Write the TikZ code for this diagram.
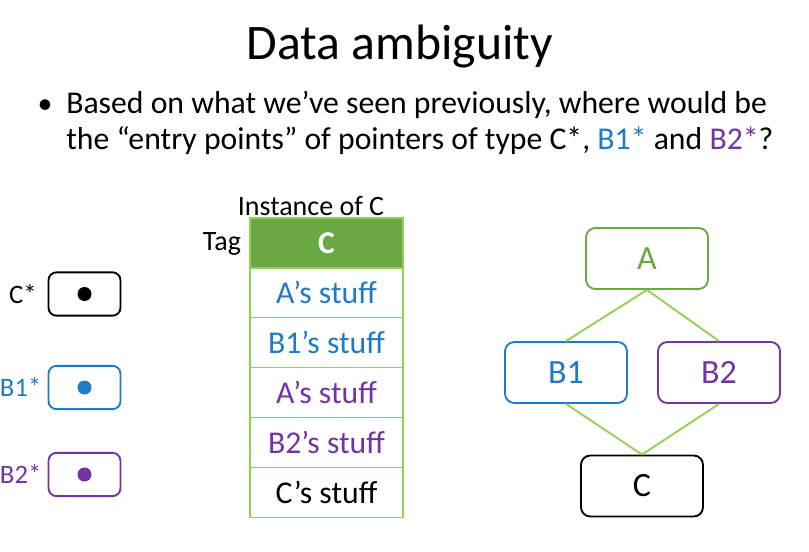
\documentclass[tikz,border=0pt]{standalone}
\usepackage{fontspec}
\setmainfont{Carlito}
\usetikzlibrary{positioning}
\definecolor{lightgreen}{HTML}{92D050}
\definecolor{darkgreen}{HTML}{6AA842}
\definecolor{ptrblue}{HTML}{1F7BC6}
\definecolor{ptrpurple}{HTML}{7434A4}
\tikzstyle{ptrbox} = [
    rectangle,
    rounded corners=6pt,
    line width=1.4pt,
    minimum width=54pt,
    minimum height=32.5pt
]
\tikzstyle{ptrdot} = [
    circle,
    inner sep=0pt,
    minimum size=10.5pt
]
\tikzstyle{ptrlabel} = [
    inner sep=0pt,
    font=\fontsize{20}{22}\selectfont
]
\tikzstyle{row} = [
    rectangle,
    draw=lightgreen,
    line width=1pt,
    outer sep=0pt,
    minimum width=114.75pt,
    minimum height=37.4pt,
    inner sep=0pt,
    font=\fontsize{23.8}{26}\selectfont
]
\tikzstyle{cls} = [
    rectangle,
    rounded corners=7pt,
    line width=1.4pt,
    minimum width=91.5pt,
    minimum height=45.75pt,
    font=\fontsize{25.5}{28}\selectfont
]
\tikzstyle{edge} = [
    draw=lightgreen,
    line width=1.4pt
]

\begin{document}
\begin{tikzpicture}[x=0.75pt, y=-0.75pt]
        \useasboundingbox (0,0) rectangle (809,552);

        % Title and question
        \node[anchor=base, font=\fontsize{37.3}{40}\selectfont] (title) at (400,60) {Data ambiguity};
        \node[anchor=base, font=\fontsize{22.5}{26}\selectfont] (bullet) at (45,114) {•};
        \node[anchor=base west, inner sep=0pt, font=\fontsize{23.8}{26}\selectfont] (line1) at (66,114) {Based on what we’ve seen previously, where would be};
        \node[anchor=base west, inner sep=0pt, font=\fontsize{23.8}{26}\selectfont] (line2) at (66,150) {the “entry points” of pointers of type C*, \textcolor{ptrblue}{B1*} and \textcolor{ptrpurple}{B2*}?};

        % Pointers
        \node[ptrbox, draw=black] (cptr) at (84.5,294) {};
        \node[ptrbox, draw=ptrblue] (bonep) at (84.5,387.5) {};
        \node[ptrbox, draw=ptrpurple] (btwop) at (84.5,474.5) {};
        \node[ptrdot, fill=black] (cdot) at (cptr) {};
        \node[ptrdot, fill=ptrblue] (bonedot) at (bonep) {};
        \node[ptrdot, fill=ptrpurple] (btwodot) at (btwop) {};
        \node[ptrlabel, left=8pt of cptr] (clab) {C*};
        \node[ptrlabel, text=ptrblue, left=4.5pt of bonep] (bonelab) {B1*};
        \node[ptrlabel, text=ptrpurple, left=4.5pt of btwop] (btwolab) {B2*};

        % Instance of C
        \node[row, fill=darkgreen, text=white, font=\fontsize{23.8}{26}\selectfont\bfseries] (hdr) at (326.5,243) {C};
        \node[row, text=ptrblue, below=0pt of hdr] (rowa) {A’s stuff};
        \node[row, text=ptrblue, below=0pt of rowa] (rowbone) {B1’s stuff};
        \node[row, text=ptrpurple, below=0pt of rowbone] (rowaa) {A’s stuff};
        \node[row, text=ptrpurple, below=0pt of rowaa] (rowbtwo) {B2’s stuff};
        \node[row, below=0pt of rowbtwo] (rowc) {C’s stuff};
        \node[anchor=base, font=\fontsize{21}{24}\selectfont] (inst) at (311,215) {Instance of C};
        \node[anchor=base, font=\fontsize{21}{24}\selectfont] (tag) at (222,250) {Tag};

        % Hierarchy
        \node[cls, draw=darkgreen, text=darkgreen] (a) at (647,258.5) {A};
        \node[cls, draw=ptrblue, text=ptrblue] (bone) at (566,372.5) {B1};
        \node[cls, draw=ptrpurple, text=ptrpurple] (btwo) at (719,372.5) {B2};
        \node[cls, draw=black] (c) at (642,486) {C};

        % Edges
        \draw[edge] (a.south) -- (bone.north);
        \draw[edge] (a.south) -- (btwo.north);
        \draw[edge] (bone.south) -- (c.north);
        \draw[edge] (btwo.south) -- (c.north);
    \end{tikzpicture}
\end{document}
